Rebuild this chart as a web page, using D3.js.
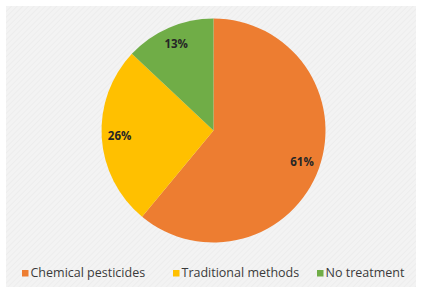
<!DOCTYPE html>
<html>
<head>
<meta charset="utf-8">
<script src="https://cdn.jsdelivr.net/npm/d3@7"></script>
<style>
  body { margin: 0; background: #ffffff; }
  svg { display: block; }
</style>
</head>
<body>
<svg></svg>
<script>
let categories = ["Chemical pesticides", "Traditional methods", "No treatment"];
let values = [61, 26, 13];
let colors = ["#ED7D31", "#FFC000", "#70AD47"];

let width = 428;
let height = 294;
let cx = 213.5;
let cy = 130.5;
let radius = 112;

let svg = d3.select("svg").attr("width", width).attr("height", height);

// hatched gray background
let defs = svg.append("defs");
let pat = defs
  .append("pattern")
  .attr("id", "hatch")
  .attr("width", 4)
  .attr("height", 4)
  .attr("patternUnits", "userSpaceOnUse")
  .attr("patternTransform", "rotate(45)");
pat.append("rect").attr("width", 4).attr("height", 4).attr("fill", "#f3f3f3");
pat.append("line").attr("x1", 0).attr("y1", 0).attr("x2", 0).attr("y2", 4)
  .attr("stroke", "#ebebeb").attr("stroke-width", 1.5);

svg.append("rect")
  .attr("x", 6).attr("y", 6)
  .attr("width", 410).attr("height", 281)
  .attr("fill", "url(#hatch)");

// pie
let pie = d3.pie().sort(null).value((d) => d);
let arcs = pie(values);
let arc = d3.arc().innerRadius(0).outerRadius(radius);
let labelArc = d3.arc().innerRadius(radius * 0.84).outerRadius(radius * 0.84);

let g = svg.append("g").attr("transform", "translate(" + cx + "," + cy + ")");

g.selectAll("path")
  .data(arcs)
  .enter()
  .append("path")
  .attr("d", arc)
  .attr("fill", (d, i) => colors[i]);

g.selectAll("text")
  .data(arcs)
  .enter()
  .append("text")
  .attr("transform", (d) => "translate(" + labelArc.centroid(d) + ")")
  .attr("text-anchor", "middle")
  .attr("dy", "0.35em")
  .attr("font-family", "'Open Sans', sans-serif")
  .attr("font-weight", "bold")
  .attr("font-size", 11.5)
  .attr("fill", "#262626")
  .text((d) => d.data + "%");

// legend
let legendX = [22, 173, 317];
let legend = svg.selectAll(".leg")
  .data(categories)
  .enter()
  .append("g")
  .attr("class", "leg")
  .attr("transform", (d, i) => "translate(" + legendX[i] + ",270)");

legend.append("rect")
  .attr("width", 6.5).attr("height", 6.5)
  .attr("fill", (d, i) => colors[i]);

legend.append("text")
  .attr("x", 8.5)
  .attr("y", 7)
  .attr("font-family", "'Open Sans', sans-serif")
  .attr("font-size", 12.5)
  .attr("fill", "#3a3a3a")
  .text((d) => d);
</script>
</body>
</html>
